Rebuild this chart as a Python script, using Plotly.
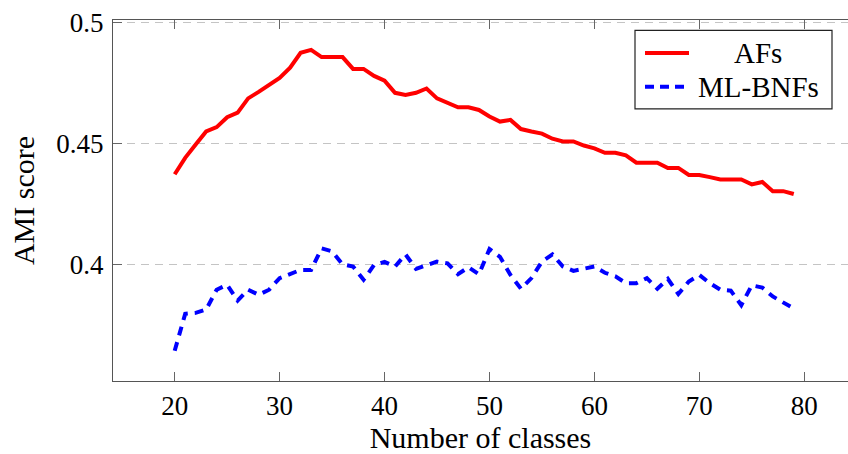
import plotly.graph_objects as go

# Number of classes on the x axis
classes = list(range(20, 80))

# AMI scores per number of classes
afs = [
    0.4373, 0.4441, 0.4496, 0.4550, 0.4568, 0.4609, 0.4628, 0.4687, 0.4714, 0.4742,
    0.4772, 0.4814, 0.4876, 0.4888, 0.4858, 0.4858, 0.4858, 0.4809, 0.4809, 0.4780,
    0.4760, 0.4710, 0.4701, 0.4710, 0.4728, 0.4687, 0.4669, 0.4650, 0.4650, 0.4639,
    0.4612, 0.4591, 0.4598, 0.4560, 0.4550, 0.4541, 0.4520, 0.4509, 0.4509, 0.4492,
    0.4480, 0.4462, 0.4462, 0.4451, 0.4421, 0.4421, 0.4421, 0.4399, 0.4399, 0.4370,
    0.4370, 0.4361, 0.4351, 0.4351, 0.4351, 0.4331, 0.4341, 0.4303, 0.4303, 0.4291,
]
ml_bnfs = [
    0.3642, 0.3795, 0.3799, 0.3813, 0.3895, 0.3915, 0.3850, 0.3895, 0.3874, 0.3895,
    0.3943, 0.3959, 0.3977, 0.3977, 0.4066, 0.4054, 0.4000, 0.3991, 0.3936, 0.3997,
    0.4010, 0.3991, 0.4041, 0.3981, 0.3995, 0.4011, 0.4004, 0.3959, 0.3988, 0.3959,
    0.4063, 0.4031, 0.3956, 0.3899, 0.3943, 0.4011, 0.4041, 0.3991, 0.3973, 0.3981,
    0.3991, 0.3965, 0.3950, 0.3922, 0.3922, 0.3943, 0.3899, 0.3940, 0.3877, 0.3929,
    0.3956, 0.3922, 0.3895, 0.3891, 0.3831, 0.3913, 0.3904, 0.3867, 0.3840, 0.3817,
]

series_names = ["AFs", "ML-BNFs"]
x_ticks = [20, 30, 40, 50, 60, 70, 80]
y_ticks = [0.4, 0.45, 0.5]
y_tick_labels = ["0.4", "0.45", "0.5"]

FONT = "Liberation Serif"
W, H = 848, 454
ML, MR, MT, MB = 113, 0, 19.5, 70.7


def px(xp):
    return (xp - ML) / (W - ML - MR)


def py(yp):
    return (H - MB - yp) / (H - MB - MT)


fig = go.Figure()
fig.add_trace(go.Scatter(
    x=classes, y=afs, mode="lines", name=series_names[0], showlegend=False,
    line=dict(color="#ff0000", width=4),
))
fig.add_trace(go.Scatter(
    x=classes, y=ml_bnfs, mode="lines", name=series_names[1], showlegend=False,
    line=dict(color="#0000ff", width=4, dash="9px,7px"),
))

# legend box drawn by hand so the entries can be centred like the pgfplots style
shapes = [
    dict(type="rect", xref="paper", yref="paper",
         x0=px(635), x1=px(832), y0=py(109), y1=py(30),
         line=dict(color="#222", width=1.2), fillcolor="white", layer="above"),
    dict(type="line", xref="paper", yref="paper",
         x0=px(645), x1=px(689), y0=py(52.7), y1=py(52.7),
         line=dict(color="#ff0000", width=4), layer="above"),
    dict(type="line", xref="paper", yref="paper",
         x0=px(645), x1=px(687), y0=py(86.7), y1=py(86.7),
         line=dict(color="#0000ff", width=4, dash="9px,6px"), layer="above"),
]
annotations = [
    dict(text=series_names[0], xref="paper", yref="paper", x=px(758), y=py(52.7),
         xanchor="center", yanchor="middle", showarrow=False,
         font=dict(family=FONT, size=29, color="black")),
    dict(text=series_names[1], xref="paper", yref="paper", x=px(758), y=py(86.7),
         xanchor="center", yanchor="middle", showarrow=False,
         font=dict(family=FONT, size=29, color="black")),
]

fig.update_layout(
    width=W, height=H,
    margin=dict(l=ML, r=MR, t=MT, b=MB),
    paper_bgcolor="white", plot_bgcolor="white",
    font=dict(family=FONT, size=27, color="black"),
    shapes=shapes, annotations=annotations,
    showlegend=False,
)
fig.update_xaxes(
    range=[14.12, 84.17],
    tickvals=x_ticks,
    ticks="inside", ticklen=9, tickcolor="#666", tickwidth=1,
    showline=True, linecolor="#555", linewidth=1.2, mirror="ticks",
    showgrid=False, zeroline=False,
    tickfont=dict(family=FONT, size=27),
    title=dict(text="Number of classes", font=dict(family=FONT, size=30), standoff=12),
)
fig.update_yaxes(
    range=[0.3517, 0.50115],
    tickvals=y_ticks, ticktext=y_tick_labels,
    ticks="inside", ticklen=9, tickcolor="#666", tickwidth=1,
    showline=True, linecolor="#555", linewidth=1.2, mirror=False,
    showgrid=True, gridcolor="#c4c4c4", gridwidth=1, griddash="8px,6px",
    zeroline=False,
    ticklabelstandoff=3,
    tickfont=dict(family=FONT, size=27),
    title=dict(text="AMI score", font=dict(family=FONT, size=30), standoff=12),
)

fig.write_html("out.html")
